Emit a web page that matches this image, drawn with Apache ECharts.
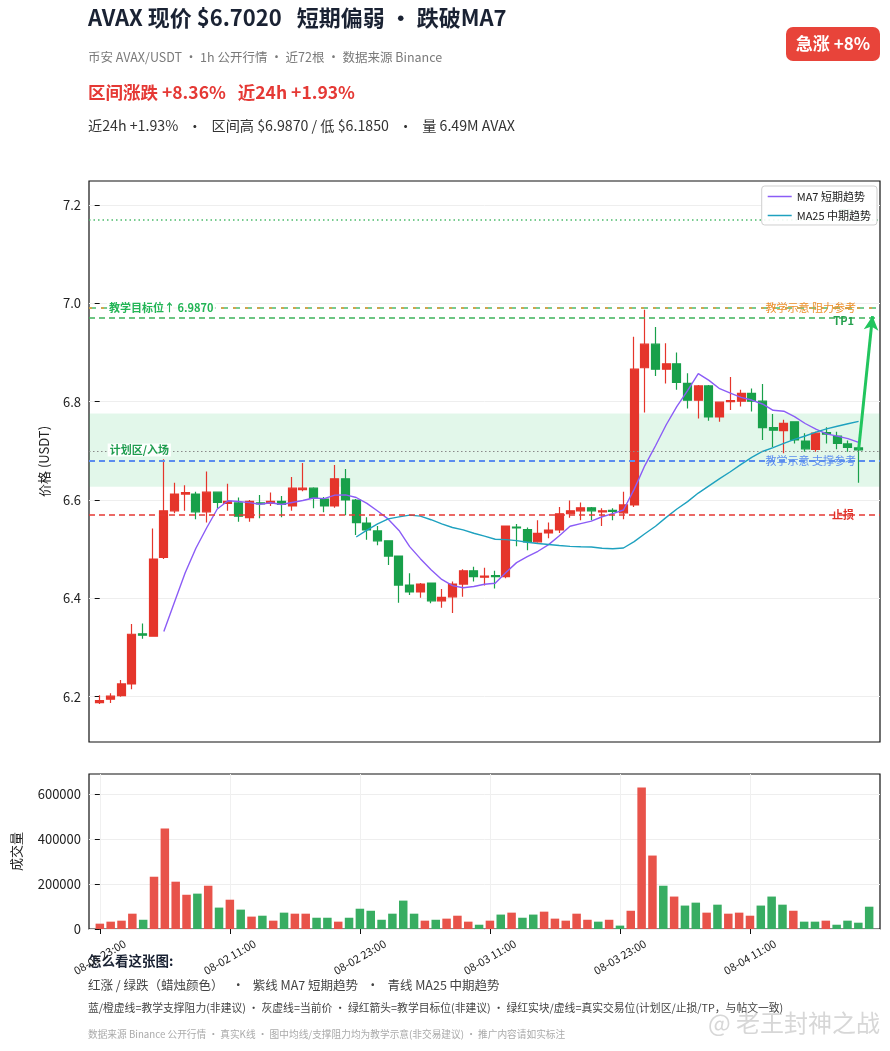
<!DOCTYPE html>
<html><head><meta charset="utf-8">
<script src="https://cdn.jsdelivr.net/npm/echarts@6/dist/echarts.min.js"></script>
<style>html,body{margin:0;padding:0;background:#fff}#c{width:890px;height:1051px}</style>
</head><body><div id="c"></div>
<script>
// ---- data (1h candles, index 0 = 08-01 23:00) ----
const opens  = [6.188,6.195,6.202,6.226,6.328,6.323,6.483,6.578,6.612,6.612,6.576,6.616,6.593,6.594,6.564,6.594,6.593,6.597,6.588,6.621,6.624,6.602,6.588,6.643,6.600,6.553,6.537,6.517,6.486,6.427,6.413,6.431,6.395,6.403,6.429,6.456,6.443,6.446,6.444,6.545,6.540,6.515,6.533,6.539,6.572,6.578,6.584,6.576,6.579,6.574,6.590,6.869,6.917,6.866,6.877,6.837,6.803,6.832,6.769,6.800,6.801,6.817,6.801,6.747,6.741,6.759,6.720,6.703,6.737,6.730,6.714,6.706];
const closes = [6.192,6.201,6.226,6.327,6.325,6.480,6.578,6.612,6.615,6.576,6.616,6.595,6.597,6.567,6.597,6.592,6.597,6.591,6.624,6.624,6.603,6.588,6.643,6.600,6.554,6.539,6.517,6.486,6.427,6.413,6.429,6.395,6.402,6.429,6.456,6.444,6.445,6.444,6.547,6.543,6.515,6.532,6.539,6.572,6.578,6.584,6.578,6.578,6.577,6.590,6.866,6.917,6.866,6.877,6.839,6.803,6.832,6.769,6.799,6.802,6.817,6.801,6.747,6.742,6.756,6.722,6.704,6.736,6.734,6.715,6.707,6.702];
const lows   = [6.185,6.187,6.200,6.215,6.318,6.322,6.480,6.573,6.578,6.561,6.554,6.583,6.578,6.556,6.556,6.563,6.588,6.565,6.578,6.618,6.583,6.575,6.584,6.569,6.529,6.519,6.508,6.468,6.391,6.407,6.401,6.390,6.381,6.370,6.403,6.434,6.426,6.420,6.441,6.506,6.498,6.513,6.522,6.533,6.564,6.559,6.559,6.547,6.559,6.561,6.586,6.778,6.852,6.837,6.824,6.786,6.766,6.761,6.759,6.783,6.790,6.780,6.722,6.708,6.695,6.715,6.698,6.698,6.715,6.703,6.698,6.635];
const highs  = [6.203,6.207,6.234,6.348,6.349,6.542,6.683,6.635,6.630,6.617,6.658,6.617,6.633,6.605,6.600,6.610,6.615,6.608,6.647,6.675,6.626,6.606,6.671,6.663,6.602,6.565,6.547,6.518,6.487,6.451,6.431,6.432,6.419,6.434,6.459,6.464,6.462,6.456,6.548,6.551,6.544,6.559,6.554,6.586,6.599,6.595,6.586,6.583,6.583,6.617,6.932,6.987,6.952,6.919,6.900,6.858,6.834,6.834,6.800,6.850,6.824,6.827,6.836,6.775,6.763,6.760,6.736,6.739,6.748,6.739,6.721,6.707];
const volumes = [23700,32600,37000,68000,41000,232000,446000,210000,152000,157000,192000,95000,130000,86000,55000,59000,37000,72600,68000,68000,50000,50000,32600,50000,90000,81000,41000,68000,126000,68000,37000,41000,46000,59000,32600,19000,37000,64000,72600,50000,64000,77000,46000,37000,68000,41000,32600,41000,15000,81000,628000,326000,192000,144000,104000,117000,72600,108000,68000,72600,59000,104000,144000,108000,81000,32600,32600,37000,19000,37000,28000,99000];
const tickIndex  = [0,12,24,36,48,60];
const tickLabels = ['08-01 23:00','08-02 11:00','08-02 23:00','08-03 11:00','08-03 23:00','08-04 11:00'];
const priceTicks = [6.2,6.4,6.6,6.8,7.0,7.2];
const volTicks   = [0,200000,400000,600000];
// levels
const tp2 = 7.1715, target = 6.987, tp1 = 6.969, zoneTop = 6.776, zoneBottom = 6.627,
      zoneMid = 6.7015, lastPrice = 6.702, support = 6.685, stopLoss = 6.570;
const arrowEnd = [72.3, 6.974];

const FF = '"Noto Sans CJK SC","Noto Sans",sans-serif';
const RED = '#e5352b', GREEN = '#18a04a';
const VRED = '#e8534a', VGREEN = '#38ad62';

const candleData = opens.map((o,i)=>[i, o, closes[i], lows[i], highs[i]]);
function ma(n){
  return closes.map((c,i)=>{
    if(i < n-1) return [i, null];
    let s = 0; for(let k=i-n+1;k<=i;k++) s += closes[k];
    return [i, +(s/n).toFixed(4)];
  });
}
const volData = volumes.map((v,i)=>({value:[i,v], itemStyle:{color: closes[i] >= opens[i] ? VRED : VGREEN}}));

const chart = echarts.init(document.getElementById('c'), null, {renderer:'canvas'});
const hline = (y, color, type, width, label) => ({
  yAxis: y,
  lineStyle: {color, type, width},
  label: label || {show:false}
});
const markLines = [
  hline(tp2, '#4cbb6c', [1.5, 3], 1.6, {show:true, position:'insideEndTop', formatter:'TP2', color:'#2f9e55', fontWeight:'bold', fontSize: 11, distance: [20, 0]}),
  hline(target, '#4cbb6c', [7, 5], 1.6, {show:true, position:'insideStart', formatter:'教学目标位↑ 6.9870', color:'#22b455', fontWeight:'bold', fontSize: 11, distance:[18, 0], backgroundColor:'rgba(255,255,255,0.92)', padding:[1,2]}),
  hline(target, '#ec9a3a', [3, 9], 1.6, {show:true, position:'insideEnd', formatter:'教学示意 阻力参考', color:'#ec8f2a', fontSize: 11, distance:[24, 0]}),
  hline(tp1, '#3cb35a', [6, 4], 1.6, {show:true, position:'insideEndBottom', formatter:'TP1', color:'#27a14f', fontWeight:'bold', fontSize: 11, distance:[26, -3]}),
  hline(lastPrice, '#8a8a8a', [1.5, 2.5], 1.2, {show:false}),
  hline(support, '#5b8def', [6, 4], 1.8, {show:true, position:'insideEnd', formatter:'教学示意 支撑参考', color:'#5b8def', fontSize: 11, distance:[24, 0]}),
  hline(stopLoss, '#e53935', [6, 4], 1.6, {show:true, position:'insideEndTop', formatter:'止损', color:'#e0322a', fontWeight:'bold', fontSize: 11, distance:[26, -6]}),
  [
    {coord: [71, lastPrice], symbol: 'none'},
    {coord: arrowEnd, symbol: 'arrow', symbolSize: [11, 14], lineStyle:{color:'#22c55e', width:3, type:'solid'}, label:{show:false}}
  ]
];
chart.setOption({
  animation: false,
  backgroundColor: '#fff',
  textStyle: {fontFamily: FF},
  grid: [
    {left: 89, top: 181, width: 791, height: 561, show: true, borderColor: '#111', borderWidth: 1.2, backgroundColor: 'transparent'},
    {left: 89, top: 774, width: 791, height: 155, show: true, borderColor: '#111', borderWidth: 1.2, backgroundColor: 'transparent'}
  ],
  legend: {
    data: ['MA7 短期趋势','MA25 中期趋势'],
    orient: 'vertical', right: 13, top: 186,
    icon: 'rect', itemWidth: 24, itemHeight: 1.5, itemGap: 8,
    padding: [5, 6, 4, 6],
    backgroundColor: 'rgba(255,255,255,0.9)', borderColor: '#cfcfcf', borderWidth: 1, borderRadius: 3,
    textStyle: {fontSize: 11, color: '#222', fontFamily: FF},
    z: 20
  },
  xAxis: [
    {type: 'value', gridIndex: 0, min: -1, max: 73,
     axisLine: {show:false}, axisTick: {show:false}, axisLabel: {show:false}, splitLine: {show:false}},
    {type: 'value', gridIndex: 1, min: -1, max: 72,
     axisLine: {show:false},
     axisTick: {show:true, customValues: tickIndex, length: 5, lineStyle:{color:'#111'}},
     axisLabel: {show:true, customValues: tickIndex, rotate: 30, fontSize: 11, color: '#222', margin: 28,
       align: 'center', verticalAlign: 'middle',
       formatter: v => tickLabels[tickIndex.indexOf(Math.round(v))] || ''},
     splitLine: {show:true, lineStyle:{color:'#f0f0f0', width: 1}}}
  ],
  yAxis: [
    {type: 'value', gridIndex: 0, min: 6.1078, max: 7.2488, scale: true,
     name: '价格 (USDT)', nameLocation: 'middle', nameGap: 38, nameRotate: 90,
     nameTextStyle: {fontSize: 13, color: '#222'},
     axisLine: {show:false},
     axisTick: {show:true, customValues: priceTicks, length: 5, lineStyle:{color:'#111'}},
     axisLabel: {show:true, customValues: priceTicks, fontSize: 13, color:'#222', margin: 8, formatter: v => v.toFixed(1)},
     splitLine: {show:true, lineStyle:{color:'#eeeeee'}}},
    {type: 'value', gridIndex: 1, min: 0, max: 688000,
     name: '成交量', nameLocation: 'middle', nameGap: 66, nameRotate: 90,
     nameTextStyle: {fontSize: 13, color: '#222'},
     axisLine: {show:false},
     axisTick: {show:true, customValues: volTicks, length: 5, lineStyle:{color:'#111'}},
     axisLabel: {show:true, customValues: volTicks, fontSize: 13, color:'#222', margin: 8, formatter: v => String(Math.round(v))},
     splitLine: {show:true, lineStyle:{color:'#eeeeee'}}}
  ],
  series: [
    {
      type: 'candlestick', name: 'K', xAxisIndex: 0, yAxisIndex: 0,
      data: candleData, encode: {x: 0, y: [1,2,3,4]},
      barWidth: 8.5,
      itemStyle: {color: RED, color0: GREEN, borderColor: RED, borderColor0: GREEN, borderWidth: 1.2},
      markArea: {
        silent: true,
        itemStyle: {color: 'rgba(34,197,94,0.13)'},
        data: [[{yAxis: zoneBottom}, {yAxis: zoneTop}]]
      },
      markLine: {silent: true, symbol: ['none','none'], animation: false, data: markLines},
      markPoint: {
        silent: true,
        symbol: 'circle', symbolSize: 1, itemStyle: {color: 'rgba(0,0,0,0)'},
        data: [{coord: [0.7, zoneMid],
          label: {show:true, position:'right', distance: 0, formatter:'计划区/入场', color:'#1f9d4f', fontWeight:'bold', fontSize: 11,
            backgroundColor:'rgba(255,255,255,0.92)', padding:[1,2]}}]
      },
      z: 3
    },
    {type: 'line', name: 'MA7 短期趋势', xAxisIndex: 0, yAxisIndex: 0, data: ma(7), symbol: 'none',
     lineStyle: {color:'#8b5cf6', width: 1.4}, itemStyle: {color:'#8b5cf6'}, z: 4},
    {type: 'line', name: 'MA25 中期趋势', xAxisIndex: 0, yAxisIndex: 0, data: ma(25), symbol: 'none',
     lineStyle: {color:'#1ea1bf', width: 1.4}, itemStyle: {color:'#1ea1bf'}, z: 4},
    {type: 'bar', name: 'Vol', xAxisIndex: 1, yAxisIndex: 1, data: volData, barWidth: 8.5}
  ],
  graphic: [
    {type:'text', left: 88, top: 7, style:{text:'AVAX 现价 $6.7020   短期偏弱 • 跌破MA7', font:'bold 22px '+FF, fill:'#1a2233'}},
    {type:'text', left: 88, top: 51, style:{text:'币安 AVAX/USDT · 1h 公开行情 · 近72根 · 数据来源 Binance', font:'12.5px '+FF, fill:'#7a7a7a'}},
    {type:'text', left: 88, top: 84, style:{text:'区间涨跌 +8.36%   近24h +1.93%', font:'bold 17.5px '+FF, fill:'#e53935'}},
    {type:'text', left: 88, top: 119, style:{text:'近24h +1.93%   ·   区间高 $6.9870 / 低 $6.1850   ·   量 6.49M AVAX', font:'14.2px '+FF, fill:'#333'}},
    {type:'group', left: 786, top: 27, children:[
      {type:'rect', shape:{x:0, y:0, width:94, height:34, r:7}, style:{fill:'#e8443a'}},
      {type:'text', x: 47, y: 17, style:{text:'急涨 +8%', font:'bold 17px '+FF, fill:'#fff', align:'center', verticalAlign:'middle'}}
    ]},
    {type:'text', left: 88, top: 954, style:{text:'怎么看这张图:', font:'bold 13.5px '+FF, fill:'#1a2233'}},
    {type:'text', left: 88, top: 979, style:{text:'红涨 / 绿跌（蜡烛颜色）   ·   紫线 MA7 短期趋势   ·   青线 MA25 中期趋势', font:'12.5px '+FF, fill:'#444'}},
    {type:'text', left: 88, top: 1003, style:{text:'蓝/橙虚线=教学支撑阻力(非建议) · 灰虚线=当前价 · 绿红箭头=教学目标位(非建议) · 绿红实块/虚线=真实交易位(计划区/止损/TP，与帖文一致)', font:'10.8px '+FF, fill:'#444'}},
    {type:'text', left: 88, top: 1029, style:{text:'数据来源 Binance 公开行情 · 真实K线 · 图中均线/支撑阻力均为教学示意(非交易建议) · 推广内容请如实标注', font:'9.7px '+FF, fill:'#aaa'}},
    {type:'text', left: 708, top: 1011, style:{text:'@ 老王封神之战', font:'24px '+FF, fill:'rgba(175,175,175,0.5)'}}
  ]
});
</script>
</body></html>
